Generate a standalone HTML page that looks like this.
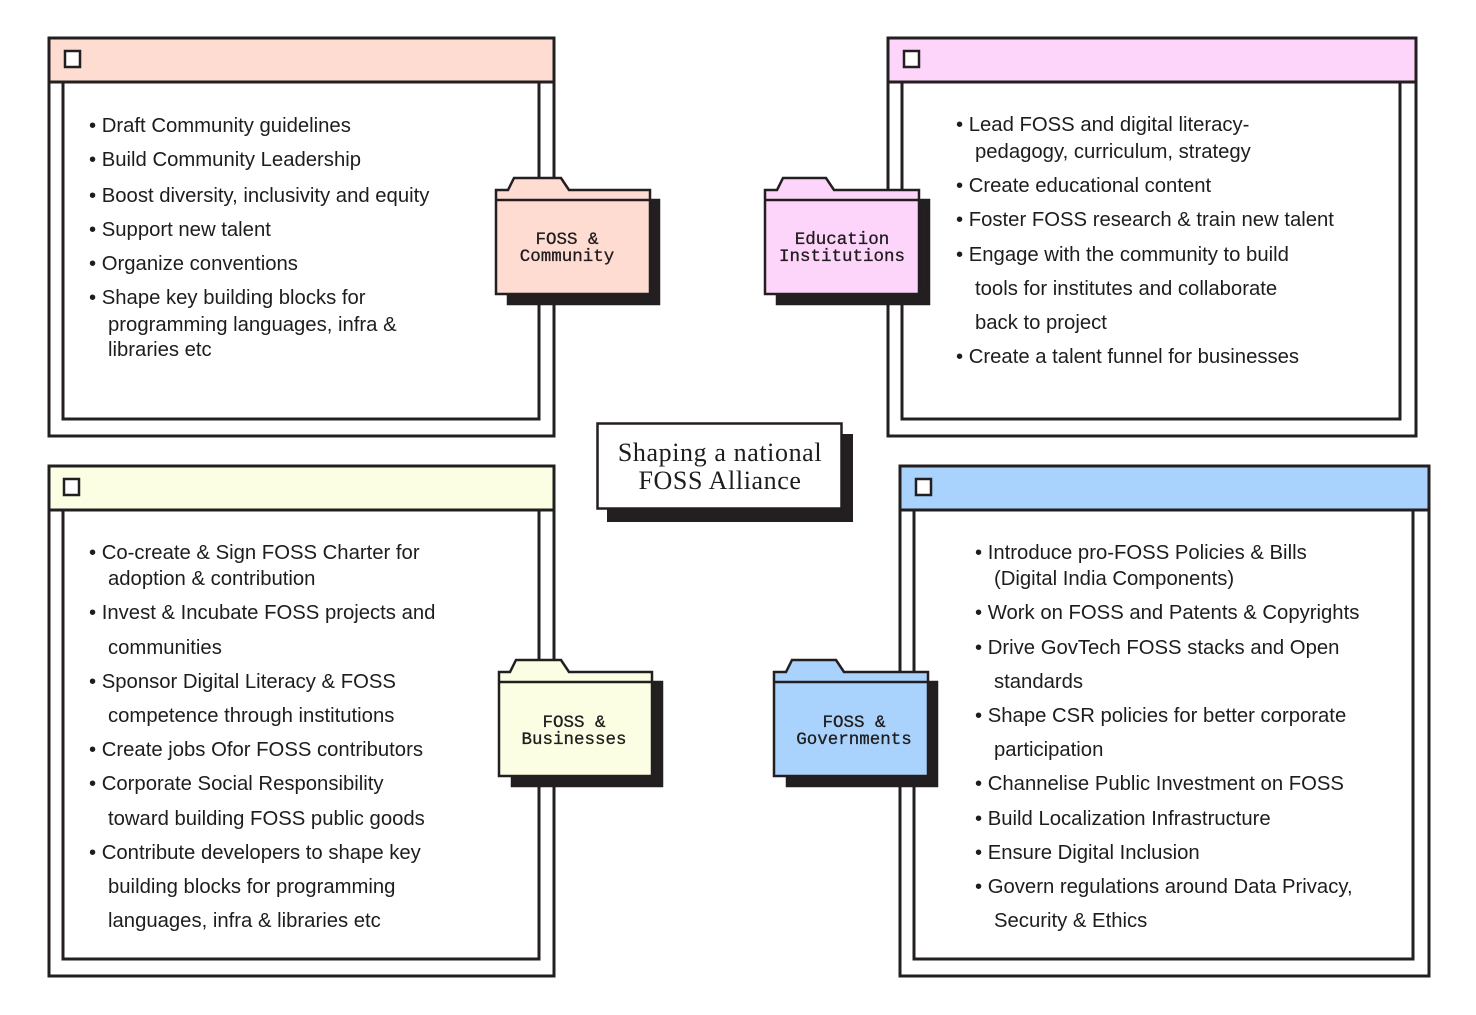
<!DOCTYPE html>
<html><head><meta charset="utf-8"><style>
html,body{margin:0;padding:0;background:#fff;}
svg{display:block}
.b{font-family:"Liberation Sans",sans-serif;font-size:20.3px;fill:#1f1c1d}
.f{font-family:"Liberation Mono",monospace;font-size:17.5px;fill:#1f1c1d;text-anchor:middle;stroke:#1f1c1d;stroke-width:0.3px}
.t{font-family:"Liberation Serif",serif;font-size:26px;fill:#1f1c1d;text-anchor:middle;letter-spacing:0.6px}
</style></head><body>
<svg width="1476" height="1015" viewBox="0 0 1476 1015" xmlns="http://www.w3.org/2000/svg">
<g stroke="#231f20" stroke-width="3" fill="#fff">
<rect x="49" y="38" width="505" height="398"/>
<rect x="49" y="38" width="505" height="44" fill="#fedcd2"/>
<rect x="63" y="82" width="476" height="337"/>
<rect x="65" y="51" width="15" height="16" stroke-width="2.5"/>
<rect x="888" y="38" width="528" height="398"/>
<rect x="888" y="38" width="528" height="44" fill="#fed5fa"/>
<rect x="902" y="82" width="498" height="337"/>
<rect x="904" y="51" width="15" height="16" stroke-width="2.5"/>
<rect x="49" y="466" width="505" height="510"/>
<rect x="49" y="466" width="505" height="44" fill="#fcfee3"/>
<rect x="63" y="510" width="476" height="449"/>
<rect x="64" y="479" width="15" height="16" stroke-width="2.5"/>
<rect x="900" y="466" width="529" height="510"/>
<rect x="900" y="466" width="529" height="44" fill="#a9d2fd"/>
<rect x="914" y="510" width="499" height="449"/>
<rect x="916" y="479" width="15" height="16" stroke-width="2.5"/>
</g>
<rect x="607" y="434" width="246" height="88" fill="#231f20"/>
<rect x="597.5" y="423.5" width="244" height="85" fill="#fff" stroke="#231f20" stroke-width="2.5"/>
<text class="t" x="720" y="461">Shaping a national</text>
<text class="t" x="720" y="489">FOSS Alliance</text>
<g stroke="#231f20" stroke-width="2.5">
<rect x="508" y="200" width="151" height="104" fill="#231f20"/>
<path d="M496,190 H508 L514,178 H561 L569,190 H650 V294 H496 Z" fill="#fedcd2"/>
<line x1="496" y1="200" x2="650" y2="200"/>
<rect x="777" y="200" width="152" height="104" fill="#231f20"/>
<path d="M765,190 H777 L783,178 H826 L834,190 H919 V294 H765 Z" fill="#fed5fa"/>
<line x1="765" y1="200" x2="919" y2="200"/>
<rect x="512" y="682" width="150" height="104" fill="#231f20"/>
<path d="M499,672 H510 L516,660 H561 L569,672 H652 V776 H499 Z" fill="#fcfee3"/>
<line x1="499" y1="682" x2="652" y2="682"/>
<rect x="787" y="682" width="150" height="104" fill="#231f20"/>
<path d="M774,672 H786 L792,660 H836 L844,672 H928 V776 H774 Z" fill="#a9d2fd"/>
<line x1="774" y1="682" x2="928" y2="682"/>
</g>
<text class="f" x="567" y="244">FOSS &amp;</text>
<text class="f" x="567" y="261">Community</text>
<text class="f" x="842" y="244">Education</text>
<text class="f" x="842" y="261">Institutions</text>
<text class="f" x="574" y="727">FOSS &amp;</text>
<text class="f" x="574" y="744">Businesses</text>
<text class="f" x="854" y="727">FOSS &amp;</text>
<text class="f" x="854" y="744">Governments</text>
<g class="b">
<text x="89" y="132">• Draft Community guidelines</text>
<text x="89" y="166">• Build Community Leadership</text>
<text x="89" y="202">• Boost diversity, inclusivity and equity</text>
<text x="89" y="236">• Support new talent</text>
<text x="89" y="270">• Organize conventions</text>
<text x="89" y="304">• Shape key building blocks for</text>
<text x="108" y="331">programming languages, infra &amp;</text>
<text x="108" y="356">libraries etc</text>
</g>
<g class="b">
<text x="956" y="131">• Lead FOSS and digital literacy-</text>
<text x="975" y="158">pedagogy, curriculum, strategy</text>
<text x="956" y="192">• Create educational content</text>
<text x="956" y="226">• Foster FOSS research &amp; train new talent</text>
<text x="956" y="261">• Engage with the community to build</text>
<text x="975" y="295">tools for institutes and collaborate</text>
<text x="975" y="329">back to project</text>
<text x="956" y="363">• Create a talent funnel for businesses</text>
</g>
<g class="b">
<text x="89" y="559">• Co-create &amp; Sign FOSS Charter for</text>
<text x="108" y="585">adoption &amp; contribution</text>
<text x="89" y="619">• Invest &amp; Incubate FOSS projects and</text>
<text x="108" y="654">communities</text>
<text x="89" y="688">• Sponsor Digital Literacy &amp; FOSS</text>
<text x="108" y="722">competence through institutions</text>
<text x="89" y="756">• Create jobs Ofor FOSS contributors</text>
<text x="89" y="790">• Corporate Social Responsibility</text>
<text x="108" y="825">toward building FOSS public goods</text>
<text x="89" y="859">• Contribute developers to shape key</text>
<text x="108" y="893">building blocks for programming</text>
<text x="108" y="927">languages, infra &amp; libraries etc</text>
</g>
<g class="b">
<text x="975" y="559">• Introduce pro-FOSS Policies &amp; Bills</text>
<text x="994" y="585">(Digital India Components)</text>
<text x="975" y="619">• Work on FOSS and  Patents &amp; Copyrights</text>
<text x="975" y="654">• Drive GovTech FOSS stacks and Open</text>
<text x="994" y="688">standards</text>
<text x="975" y="722">• Shape CSR policies for better  corporate</text>
<text x="994" y="756">participation</text>
<text x="975" y="790">• Channelise Public Investment on FOSS</text>
<text x="975" y="825">• Build Localization Infrastructure</text>
<text x="975" y="859">• Ensure Digital Inclusion</text>
<text x="975" y="893">• Govern regulations around Data Privacy,</text>
<text x="994" y="927">Security &amp; Ethics</text>
</g>
</svg>
</body></html>
